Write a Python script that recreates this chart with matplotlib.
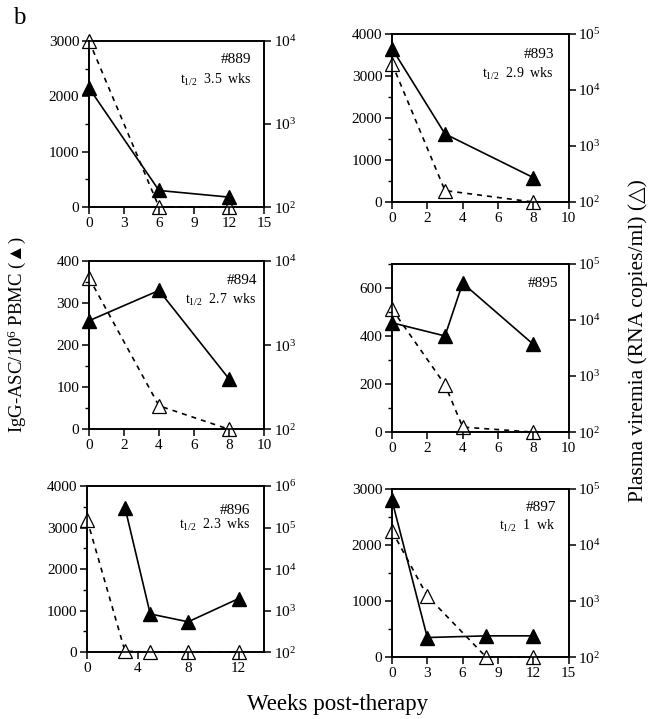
import matplotlib
matplotlib.use("Agg")
import matplotlib.pyplot as plt
from matplotlib.ticker import MultipleLocator, LogLocator, NullLocator

plt.rcParams['font.family'] = ['Liberation Serif', 'DejaVu Serif', 'DejaVu Sans']
plt.rcParams['mathtext.fontset'] = 'custom'
plt.rcParams['mathtext.rm'] = 'Liberation Serif'
plt.rcParams['mathtext.it'] = 'Liberation Serif:italic'

# patient ids and half-lives
patients = ['#889', '#893', '#894', '#895', '#896', '#897']
half_lives = ['3.5  wks', '2.9  wks', '2.7  wks', None, '2.3  wks', '1  wk']

# IgG-ASC per 10^6 PBMC (filled triangles)
asc_weeks = [[0, 6, 12], [0, 3, 8], [0, 4, 8], [0, 3, 4, 8], [3, 5, 8, 12], [0, 3, 8, 12]]
asc_vals = [[2150, 300, 180], [3650, 1620, 580], [258, 330, 120],
            [455, 400, 620, 365], [3480, 920, 730, 1290], [2800, 350, 380, 380]]

# plasma viremia, RNA copies/ml (open triangles)
vir_weeks = [[0, 6, 12], [0, 3, 8], [0, 4, 8], [0, 3, 4, 8], [0, 3, 5, 8, 12], [0, 3, 8, 12]]
vir_vals = [[10000, 100, 100], [29500, 160, 100], [6300, 190, 100],
            [15700, 700, 123, 100], [155000, 105, 100, 100, 100], [17800, 1230, 100, 100]]

# axis setup per panel
xlims = [15, 10, 10, 10, 14, 15]
xticks = [[0, 3, 6, 9, 12, 15], [0, 2, 4, 6, 8, 10], [0, 2, 4, 6, 8, 10],
          [0, 2, 4, 6, 8, 10], [0, 4, 8, 12], [0, 3, 6, 9, 12, 15]]
ylims = [3000, 4000, 400, 700, 4000, 3000]
ymajor = [1000, 1000, 100, 200, 1000, 1000]
vir_top = [1e4, 1e5, 1e4, 1e5, 1e6, 1e5]

positions = [[0.137, 0.712, 0.269, 0.231], [0.603, 0.719, 0.272, 0.234],
             [0.137, 0.403, 0.269, 0.234], [0.603, 0.399, 0.272, 0.234],
             [0.134, 0.093, 0.272, 0.231], [0.603, 0.086, 0.272, 0.234]]
label_pos = [(0.93, 0.89, 0.765), (0.917, 0.876, 0.763), (0.962, 0.884, 0.769),
             (0.938, 0.885, None), (0.925, 0.855, 0.765), (0.928, 0.889, 0.777)]

fig = plt.figure(figsize=(6.5, 7.19), dpi=100)

for i in range(6):
    ax = fig.add_axes(positions[i])
    ax2 = ax.twinx()
    ax.plot(asc_weeks[i], asc_vals[i], '-', color='black', lw=1.2,
            marker='^', ms=10, mfc='black', mec='black', clip_on=False, zorder=3)
    ax2.plot(vir_weeks[i], vir_vals[i], color='black', lw=1.2, dashes=(3, 3),
             marker='^', ms=10, mfc='white', mec='black', mew=0.9, clip_on=False, zorder=3)
    ax.set_xlim(0, xlims[i])
    ax.set_xticks(xticks[i])
    ax.set_ylim(0, ylims[i])
    ax.yaxis.set_major_locator(MultipleLocator(ymajor[i]))
    ax.yaxis.set_minor_locator(MultipleLocator(ymajor[i] / 2))
    ax2.set_yscale('log')
    ax2.set_ylim(100, vir_top[i])
    ax2.yaxis.set_major_locator(LogLocator(base=10))
    ax2.yaxis.set_minor_locator(NullLocator())
    for a in (ax, ax2):
        for s in a.spines.values():
            s.set_linewidth(1.2)
        a.tick_params(which='major', direction='out', length=5, width=1.1, labelsize=11, pad=2)
        a.tick_params(which='minor', direction='out', length=3, width=1.0)
    ax.set_zorder(ax2.get_zorder() + 1)
    ax.patch.set_visible(False)
    xr, y1, y2 = label_pos[i]
    ax.text(xr, y1, patients[i], transform=ax.transAxes, ha='right', va='center', fontsize=11)
    if half_lives[i] is not None:
        ax.text(xr, y2, r't$_{\mathregular{1/2}}$  ' + half_lives[i], transform=ax.transAxes,
                ha='right', va='center', fontsize=10)

fig.text(0.02, 0.975, 'b', fontsize=18, ha='left', va='center')
fig.text(0.026, 0.535, 'IgG-ASC/10$^{6}$ PBMC (▲)', rotation=90, fontsize=13.5,
         ha='center', va='center')
fig.text(0.982, 0.527, 'Plasma viremia (RNA copies/ml) (△)', rotation=90, fontsize=15.5,
         ha='center', va='center')
fig.text(0.52, 0.02, 'Weeks post-therapy', fontsize=16.5, ha='center', va='center')

fig.savefig('out.png', dpi=100)
